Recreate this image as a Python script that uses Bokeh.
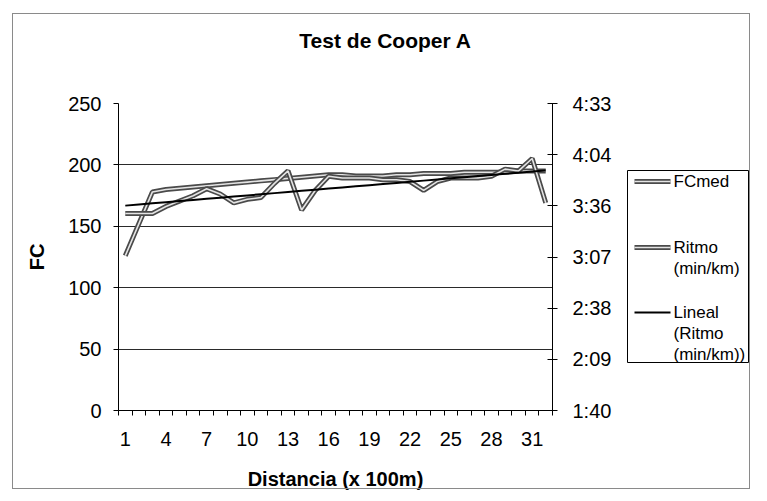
import numpy as np
from bokeh.plotting import figure
from bokeh.layouts import column, row
from bokeh.models import (Range1d, LinearAxis, FixedTicker, CustomJSTickFormatter,
                          InlineStyleSheet)
from bokeh.core.properties import value
from bokeh.embed import file_html
from bokeh.resources import INLINE

# ---------------- data ----------------
DISTANCIA = [1, 2, 3, 4, 5, 6, 7, 8, 9, 10, 11, 12, 13, 14, 15, 16,
             17, 18, 19, 20, 21, 22, 23, 24, 25, 26, 27, 28, 29, 30, 31, 32]
X_TICK_LABELS = ["1", "4", "7", "10", "13", "16", "19", "22", "25", "28", "31"]

FC_MED = [126, 152, 178, 180, 181, 182, 183, 184, 185, 186, 187, 188, 189, 190, 191, 192,
          192, 191, 191, 191, 192, 192, 193, 193, 193, 194, 194, 194, 194, 195, 195, 195]

RITMO = ["3:31", "3:31", "3:31", "3:35", "3:38", "3:41", "3:45", "3:42", "3:37", "3:39",
         "3:40", "3:48", "3:55", "3:33", "3:44", "3:52", "3:51", "3:51", "3:51", "3:50",
         "3:50", "3:49", "3:44", "3:49", "3:51", "3:51", "3:51", "3:52", "3:56", "3:55",
         "4:02", "3:37"]

FC_TICKS = [0, 50, 100, 150, 200, 250]
RITMO_TICK_LABELS = ["1:40", "2:09", "2:38", "3:07", "3:36", "4:04", "4:33"]

TITLE = "Test de Cooper A"
X_TITLE = "Distancia (x 100m)"
Y_TITLE = "FC"
LEGEND_LINES = [["FCmed"], ["Ritmo", "(min/km)"], ["Lineal", "(Ritmo", "(min/km))"]]


def to_sec(s):
    m, ss = s.split(":")
    return int(m) * 60 + int(ss)


x = np.array(DISTANCIA, dtype=float)
ritmo_s = np.array([to_sec(s) for s in RITMO], dtype=float)
coef = np.polyfit(x, ritmo_s, 1)
trend = np.polyval(coef, x)

r_lo = to_sec(RITMO_TICK_LABELS[0])
r_hi = to_sec(RITMO_TICK_LABELS[-1])
r_ticks = list(np.linspace(r_lo, r_hi, len(RITMO_TICK_LABELS)))
r_step = (r_hi - r_lo) / (len(RITMO_TICK_LABELS) - 1)

FONT = "Liberation Sans"
OUTER = "#4a4a4a"
INNER = "#e4e4e4"

# page geometry (pixels)
TITLE_H = 70
FRAME_L, FRAME_R, FRAME_T, FRAME_B = 118, 552, 103, 410
MAIN_W = 620
PAGE_W = 750
B_TOP = FRAME_T - TITLE_H
B_BOT = 83


def style_blank(f):
    f.grid.visible = False
    f.outline_line_color = None
    f.background_fill_color = "white"
    f.border_fill_color = "white"
    return f


# ---------------- title strip ----------------
tf = style_blank(figure(width=PAGE_W, height=TITLE_H,
                        x_range=Range1d(0, PAGE_W), y_range=Range1d(TITLE_H, 0),
                        x_axis_location=None, y_axis_location=None, min_border=0,
                        output_backend="svg", toolbar_location=None))
tf.text(x=[385], y=[40], text=[TITLE], text_align="center", text_baseline="middle",
        text_font=value(FONT), text_font_size="21px", text_font_style="bold",
        text_color="black")

# ---------------- main plot ----------------
p = figure(frame_width=FRAME_R - FRAME_L, frame_height=FRAME_B - FRAME_T,
           x_range=Range1d(DISTANCIA[0] - 0.5, DISTANCIA[-1] + 0.5),
           y_range=Range1d(FC_TICKS[0], FC_TICKS[-1]),
           output_backend="svg", toolbar_location=None,
           min_border_left=FRAME_L, min_border_right=MAIN_W - FRAME_R,
           min_border_top=B_TOP, min_border_bottom=B_BOT)
p.outline_line_color = None
p.background_fill_color = "white"
p.border_fill_color = "white"
p.extra_y_ranges = {"ritmo": Range1d(r_lo, r_hi)}

p.xgrid.visible = False
p.ygrid.ticker = FixedTicker(ticks=FC_TICKS)
p.ygrid.grid_line_color = "#2a2a2a"
p.ygrid.grid_line_width = 1

xa = p.xaxis[0]
xa.ticker = FixedTicker(ticks=[int(t) for t in X_TICK_LABELS],
                        minor_ticks=list(np.arange(DISTANCIA[0] - 0.5, DISTANCIA[-1] + 1, 1.0)))
xa.major_tick_out = 0
xa.major_tick_in = 0
xa.minor_tick_out = 5
xa.minor_tick_in = 0
xa.minor_tick_line_color = "black"
xa.axis_line_color = "black"
xa.major_label_standoff = 16
xa.axis_label = X_TITLE
xa.axis_label_standoff = 19

ya = p.yaxis[0]
ya.ticker = FixedTicker(ticks=FC_TICKS)
ya.major_tick_out = 5
ya.major_tick_in = 0
ya.minor_tick_line_color = None
ya.axis_line_color = "black"
ya.major_label_standoff = 12
ya.axis_label = Y_TITLE
ya.axis_label_standoff = 17

ra = LinearAxis(y_range_name="ritmo",
                ticker=FixedTicker(ticks=r_ticks),
                formatter=CustomJSTickFormatter(
                    args=dict(labels=RITMO_TICK_LABELS, lo=r_lo, step=r_step),
                    code="const i = Math.round((tick - lo) / step); return labels[i] || '';"))
ra.major_tick_out = 5
ra.major_tick_in = 5
ra.minor_tick_line_color = None
ra.axis_line_color = "black"
ra.major_label_standoff = 15
p.add_layout(ra, "right")

for ax in [xa, ya, ra]:
    ax.major_label_text_font = FONT
    ax.major_label_text_font_size = "20px"
    ax.major_label_text_color = "black"
    ax.axis_label_text_font = FONT
    ax.axis_label_text_font_size = "20px"
    ax.axis_label_text_font_style = "bold"
    ax.axis_label_text_color = "black"
    ax.major_tick_line_color = "black"

p.line(x, FC_MED, line_width=5, line_color=OUTER)
p.line(x, FC_MED, line_width=1.6, line_color=INNER)
p.line(x, ritmo_s, line_width=5, line_color=OUTER, y_range_name="ritmo")
p.line(x, ritmo_s, line_width=1.6, line_color=INNER, y_range_name="ritmo")
p.line(x, trend, line_width=2, line_color="black", y_range_name="ritmo")

# ---------------- legend panel (coordinates = page pixels) ----------------
lf = style_blank(figure(frame_width=PAGE_W - MAIN_W, frame_height=FRAME_B - FRAME_T,
                        x_range=Range1d(MAIN_W, PAGE_W), y_range=Range1d(FRAME_B, FRAME_T),
                        x_axis_location=None, y_axis_location=None,
                        min_border_left=0, min_border_right=0,
                        min_border_top=B_TOP, min_border_bottom=B_BOT,
                        output_backend="svg", toolbar_location=None))
lf.quad(left=[627], right=[748], top=[170], bottom=[362],
        fill_color="white", line_color="black", line_width=1)
item_y = [181, 247, 312]
line_step = 21
kinds = ["double", "double", "single"]
for yy, lines, kind in zip(item_y, LEGEND_LINES, kinds):
    if kind == "double":
        lf.segment(x0=[634], y0=[yy], x1=[670], y1=[yy], line_width=5, line_color=OUTER)
        lf.segment(x0=[634], y0=[yy], x1=[670], y1=[yy], line_width=1.6, line_color=INNER)
    else:
        lf.segment(x0=[634], y0=[yy], x1=[670], y1=[yy], line_width=2, line_color="black")
    lf.text(x=[673] * len(lines), y=[yy + k * line_step for k in range(len(lines))],
            text=lines, text_align="left", text_baseline="middle",
            text_font=value(FONT), text_font_size="17px", text_color="black")

layout = column(tf, row(p, lf, spacing=0), spacing=0)
layout.stylesheets = [InlineStyleSheet(css="""
:host { position: relative; overflow: visible; }
:host::after { content: ''; position: absolute; left: 12px; top: 13px;
  width: 736px; height: 474px; border: 1px solid #8a8a8a; pointer-events: none; }
""")]

open("out.html", "w").write(file_html(layout, INLINE))
